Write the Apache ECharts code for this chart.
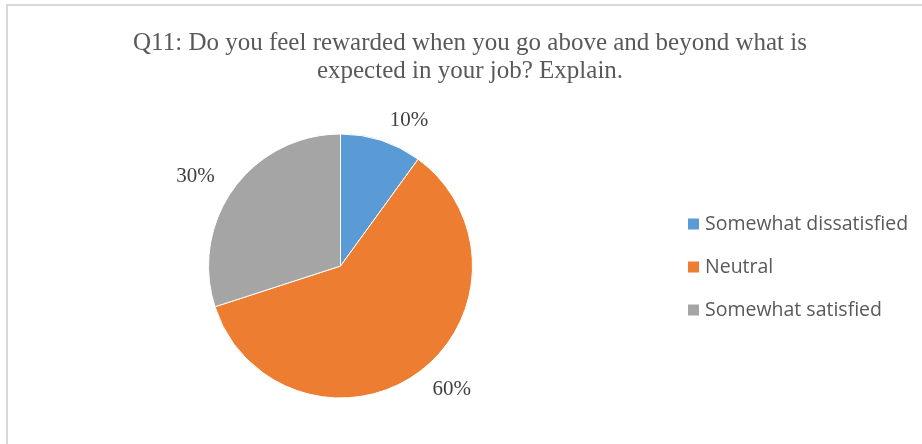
<!DOCTYPE html>
<html>
<head>
<meta charset="utf-8">
<script src="https://cdn.jsdelivr.net/npm/echarts@6/dist/echarts.min.js"></script>
<style>
html,body{margin:0;padding:0;background:#fff;overflow:hidden;}
#frame{position:absolute;left:6px;top:4px;width:1000px;height:1000px;border-top:2px solid #d9d9d9;border-left:2px solid #d9d9d9;}
#main{position:absolute;left:0;top:0;width:922px;height:444px;}
</style>
</head>
<body>
<div id="frame"></div>
<div id="main"></div>
<script>
var titleLines = ['Q11: Do you feel rewarded when you go above and beyond what is', 'expected in your job? Explain.'];
var categories = ['Somewhat dissatisfied', 'Neutral', 'Somewhat satisfied'];
var values = [10, 60, 30];
var colors = ['#5B9BD5', '#ED7D31', '#A5A5A5'];

var chart = echarts.init(document.getElementById('main'), null, {renderer: 'canvas'});
chart.setOption({
  backgroundColor: 'transparent',
  animation: false,
  title: {
    text: titleLines.join('\n'),
    left: 470,
    top: 29,
    textAlign: 'center',
    padding: 0,
    textStyle: {
      fontFamily: '"Liberation Serif", "Times New Roman", serif',
      fontSize: 25,
      fontWeight: 'normal',
      color: '#595959',
      lineHeight: 28
    }
  },
  legend: {
    orient: 'vertical',
    left: 686,
    top: 214,
    padding: 0,
    itemWidth: 13,
    itemHeight: 13,
    itemGap: 23,
    icon: 'rect',
    data: categories,
    textStyle: {
      fontFamily: '"Open Sans", sans-serif',
      fontSize: 19.5,
      color: '#595959'
    }
  },
  series: [{
    type: 'pie',
    center: [340.5, 266],
    radius: 132,
    startAngle: 90,
    clockwise: true,
    color: colors,
    itemStyle: {borderColor: '#fff', borderWidth: 1},
    label: {
      show: true,
      position: 'outside',
      formatter: '{d}%',
      fontFamily: '"Liberation Serif", "Times New Roman", serif',
      fontSize: 21,
      color: '#404040',
      distanceToLabelLine: 2
    },
    labelLine: {show: false, length: 21, length2: 0},
    emphasis: {disabled: true},
    data: categories.map(function (c, i) { return {name: c, value: values[i]}; })
  }]
});
</script>
</body>
</html>
